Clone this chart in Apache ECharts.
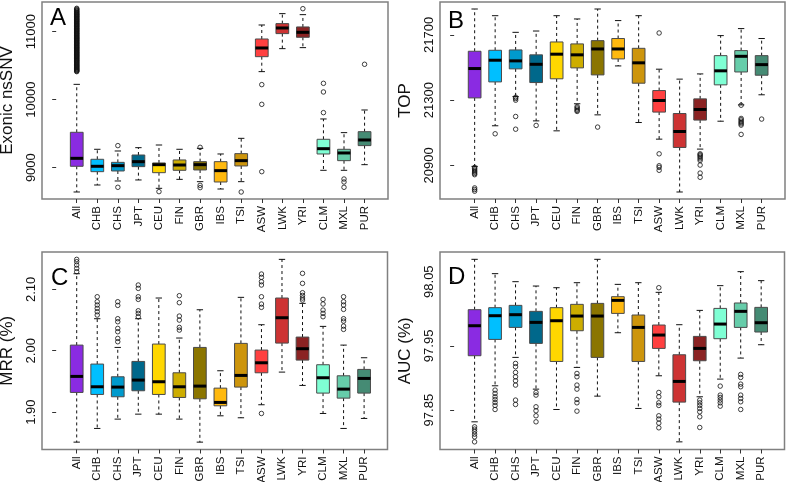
<!DOCTYPE html>
<html>
<head>
<meta charset="utf-8">
<script src="https://cdn.jsdelivr.net/npm/echarts@6/dist/echarts.min.js"></script>
<style>html,body{margin:0;padding:0;background:#fff}#c{width:787px;height:482px}</style>
</head>
<body>
<div id="c"></div>
<script>
// Categories and colours
const cats = ['All','CHB','CHS','JPT','CEU','FIN','GBR','IBS','TSI','ASW','LWK','YRI','CLM','MXL','PUR'];
const colors = ['#8A2BE2','#00BFFF','#009ACD','#00688B','#FFD700','#CDAD00','#8B7500','#FFB90F','#CD950C','#FF4040','#CD3333','#8B2323','#7FFFD4','#66CDAA','#458B74'];

// Panel A: Exonic nsSNV  [low whisker, Q1, median, Q3, high whisker]
const statsA = [
  [8642, 9020, 9137, 9520, 10225],
  [8745, 8941, 9020, 9123, 9270],
  [8804, 8951, 9029, 9078, 9245],
  [8819, 9015, 9088, 9186, 9294],
  [8696, 8926, 9044, 9069, 9333],
  [8828, 8961, 9039, 9113, 9270],
  [8794, 8966, 9044, 9088, 9284],
  [8686, 8789, 8956, 9088, 9201],
  [8794, 9025, 9103, 9206, 9431],
  [10412, 10632, 10760, 10892, 11098],
  [10750, 10971, 11054, 11118, 11265],
  [10765, 10917, 10990, 11069, 11250],
  [8961, 9201, 9279, 9417, 9716],
  [8961, 9103, 9216, 9270, 9515],
  [9044, 9324, 9407, 9529, 9848]
];
const outA = [
  [10412,10420,10428,10437,10445,10453,10461,10470,10479,10487,10496,10504,10512,10521,10531,10539,10547,10556,10566,10573,10581,10590,10600,10608,10617,10626,10636,10643,10651,10660,10668,10677,10686,10693,10701,10711,10720,10728,10737,10746,10756,10763,10771,10780,10790,10798,10807,10816,10826,10833,10841,10851,10861,10869,10877,10886,10896,10903,10911,10920,10930,10938,10947,10956,10966,10973,10981,10991,11001,11009,11017,11026,11036,11043,11051,11061,11071,11079,11087,11096,11106,11113,11121,11131,11141,11149,11157,11166,11176,11183,11191,11201,11211,11219,11227,11236,11246,11253,11261,11271,11281,11290,11300,11310,11321,11332,11343],
  [], [9324, 8711], [], [8647], [], [9299, 8740, 8706], [], [8642],
  [10221, 9931, 8941], [], [11338], [10240, 10113, 9809], [8833, 8789, 8711], [10520]
];

// Panel B: TOP
const statsB = [
  [20894, 21314, 21494, 21600, 21859],
  [21143, 21412, 21545, 21606, 21818],
  [21322, 21492, 21541, 21608, 21716],
  [21173, 21408, 21520, 21578, 21724],
  [21112, 21431, 21582, 21657, 21818],
  [21278, 21498, 21578, 21645, 21798],
  [21210, 21455, 21614, 21665, 21859],
  [21510, 21553, 21614, 21678, 21788],
  [21163, 21404, 21529, 21618, 21818],
  [21061, 21227, 21298, 21359, 21490],
  [20737, 21010, 21108, 21218, 21429],
  [21000, 21178, 21243, 21308, 21461],
  [21171, 21394, 21480, 21573, 21696],
  [21271, 21473, 21569, 21604, 21739],
  [21333, 21453, 21518, 21573, 21678]
];
const outB = [
  [20888, 20880, 20872, 20865, 20858, 20850, 20843, 20762, 20752, 20742],
  [21094], [21318, 21310, 21300, 21200, 21122], [21145], [],
  [21261, 21253, 21245, 21237, 21231], [21135], [], [],
  [21712, 20971, 20898, 20888, 20870], [],
  [20971, 20965, 20958, 20950, 20940, 20930, 20902, 20853, 20827], [],
  [21269, 21188, 21180, 21171, 21163, 21155, 21147, 21090], [21184]
];

// Panel C: MRR (%)
const statsC = [
  [1.8511, 1.9321, 1.9582, 2.0092, 2.1255],
  [1.8734, 1.9288, 1.9413, 1.9783, 2.0522],
  [1.8886, 1.9250, 1.9408, 1.9576, 2.0054],
  [1.8967, 1.9348, 1.9522, 1.9826, 2.0522],
  [1.8967, 1.9288, 1.9495, 2.0109, 2.0859],
  [1.8886, 1.9239, 1.9413, 1.9641, 2.0207],
  [1.8511, 1.9217, 1.9424, 2.0054, 2.0668],
  [1.8940, 1.9103, 1.9158, 1.9391, 1.9674],
  [1.8908, 1.9408, 1.9598, 2.0120, 2.0870],
  [1.9120, 1.9641, 1.9804, 2.0011, 2.0424],
  [1.9652, 2.0125, 2.0538, 2.0859, 2.1489],
  [1.9435, 1.9848, 2.0033, 2.0223, 2.0772],
  [1.8978, 1.9310, 1.9560, 1.9772, 2.0397],
  [1.8734, 1.9228, 1.9375, 1.9592, 2.0092],
  [1.8897, 1.9310, 1.9549, 1.9696, 1.9886]
];
const outC = [
  [2.1489, 2.1451, 2.1397, 2.1342, 2.1288],
  [2.0880, 2.0799, 2.0745, 2.0690, 2.0636, 2.0582],
  [2.0799, 2.0739, 2.0522, 2.0473, 2.0364, 2.0310, 2.0201, 2.0147],
  [2.1071, 2.1016, 2.0880, 2.0837, 2.0652, 2.0609, 2.0554],
  [],
  [2.0897, 2.0783, 2.0565, 2.0500, 2.0380, 2.0337],
  [], [], [],
  [2.1250, 2.1196, 2.1125, 2.1071, 2.0880, 2.0761, 2.0707, 1.8978],
  [],
  [2.1261, 2.1098, 2.0946, 2.0902, 2.0859, 2.0826],
  [2.0837, 2.0761, 2.0663, 2.0609, 2.0554],
  [2.0880, 2.0799, 2.0745, 2.0674, 2.0522, 2.0483, 2.0402, 2.0348],
  []
];

// Panel D: AUC (%)
const statsD = [
  [97.8318, 97.9347, 97.9814, 98.0064, 98.0848],
  [97.8879, 97.9601, 97.9970, 98.0095, 98.0625],
  [97.9321, 97.9788, 97.9986, 98.0131, 98.0500],
  [97.8827, 97.9539, 97.9866, 98.0038, 98.0432],
  [97.8510, 97.9258, 97.9892, 98.0095, 98.0406],
  [97.9165, 97.9736, 97.9965, 98.0147, 98.0484],
  [97.8718, 97.9321, 97.9965, 98.0162, 98.0848],
  [97.9705, 98.0006, 98.0209, 98.0266, 98.0458],
  [97.8526, 97.9258, 97.9788, 97.9981, 98.0484],
  [97.9035, 97.9461, 97.9669, 97.9825, 98.0334],
  [97.8006, 97.8625, 97.8947, 97.9362, 97.9830],
  [97.8708, 97.9269, 97.9461, 97.9648, 98.0053],
  [97.8983, 97.9612, 97.9840, 98.0084, 98.0438],
  [97.9310, 97.9788, 98.0038, 98.0168, 98.0656],
  [97.9518, 97.9716, 97.9861, 98.0100, 98.0516]
];
const outD = [
  [97.8240, 97.8204, 97.8168, 97.8126, 97.8084, 97.8006],
  [97.8812, 97.8760, 97.8708, 97.8666, 97.8619, 97.8573, 97.8510],
  [97.9227, 97.9175, 97.9087, 97.9019, 97.8957, 97.8890, 97.8656, 97.8588],
  [97.8775, 97.8734, 97.8552, 97.8490, 97.8412, 97.8318],
  [],
  [97.9071, 97.9019, 97.8890, 97.8827, 97.8666, 97.8614, 97.8484],
  [], [], [],
  [98.0406, 97.8775, 97.8708, 97.8614, 97.8573, 97.8412, 97.8361, 97.8298, 97.8225],
  [],
  [97.8656, 97.8614, 97.8573, 97.8526, 97.8474, 97.8396, 97.8230],
  [97.8874, 97.8734, 97.8697, 97.8656, 97.8614, 97.8562],
  [97.9056, 97.9009, 97.8905, 97.8864, 97.8734, 97.8682, 97.8630, 97.8510],
  []
];

// Axis titles, ranges and tick labels
const yNames = ['Exonic nsSNV', 'TOP', 'MRR (%)', 'AUC (%)'];
const panelLetters = ['A', 'B', 'C', 'D'];
const yMins = [8539, 20694, 1.8391, 97.7887];
const yMaxs = [11436, 21902, 2.1609, 98.0962];
const yTicksA = [9000, 10000, 11000];
const yTicksB = [20900, 21300, 21700];
const yTicksC = [1.90, 2.00, 2.10];
const yTicksD = [97.85, 97.95, 98.05];

const allStats = [statsA, statsB, statsC, statsD];
const allOut = [outA, outB, outC, outD];
const allTicks = [yTicksA, yTicksB, yTicksC, yTicksD];
const tickFmt = [v => String(v), v => String(v), v => v.toFixed(2), v => v.toFixed(2)];

const FONT = '"Liberation Sans", Arial, Helvetica, sans-serif';
const grids = [
  {left: 42, top: 2, width: 346, height: 197},
  {left: 440, top: 2, width: 345, height: 197},
  {left: 42, top: 252, width: 345.5, height: 197.5},
  {left: 440, top: 252, width: 344.5, height: 197.5}
];
const letterPos = [[50, 19], [448, 22], [51, 279], [448, 278]];

const xVals = cats.map((c, i) => i + 1);

function renderBox(params, api) {
  const x = api.value(0);
  const lo = api.coord([x, api.value(1)]);
  const q1 = api.coord([x, api.value(2)]);
  const md = api.coord([x, api.value(3)]);
  const q3 = api.coord([x, api.value(4)]);
  const hi = api.coord([x, api.value(5)]);
  const col = colors[api.value(6)];
  const hw = api.size([0.31, 0])[0];
  const cw = hw * 0.5;
  const cx = lo[0];
  const dash = {stroke: '#111', lineWidth: 1, lineDash: [3, 3]};
  const solid = {stroke: '#111', lineWidth: 1};
  return {
    type: 'group',
    children: [
      {type: 'line', shape: {x1: cx, y1: q3[1], x2: cx, y2: hi[1]}, style: dash},
      {type: 'line', shape: {x1: cx, y1: q1[1], x2: cx, y2: lo[1]}, style: dash},
      {type: 'line', shape: {x1: cx - cw, y1: hi[1], x2: cx + cw, y2: hi[1]}, style: solid},
      {type: 'line', shape: {x1: cx - cw, y1: lo[1], x2: cx + cw, y2: lo[1]}, style: solid},
      {type: 'rect', shape: {x: cx - hw, y: q3[1], width: 2 * hw, height: q1[1] - q3[1]},
        style: {fill: col, stroke: '#4a4a4a', lineWidth: 1}},
      {type: 'line', shape: {x1: cx - hw, y1: md[1], x2: cx + hw, y2: md[1]},
        style: {stroke: '#000', lineWidth: 3}}
    ]
  };
}

const option = {
  animation: false,
  backgroundColor: '#fff',
  textStyle: {fontFamily: FONT},
  grid: grids.map(g => Object.assign({
    show: true, borderColor: '#808080', borderWidth: 1.5, backgroundColor: 'transparent',
    containLabel: false, outerBoundsMode: 'none'
  }, g)),
  xAxis: grids.map((g, k) => ({
    type: 'value', gridIndex: k, min: -0.69, max: 16.14,
    axisLine: {show: false},
    splitLine: {show: false},
    axisTick: {show: true, customValues: xVals, length: 4, lineStyle: {color: '#333'}},
    axisLabel: {
      customValues: xVals, rotate: 90, margin: 7, fontSize: 11.5, color: '#111', fontFamily: FONT,
      formatter: v => cats[Math.round(v) - 1] || ''
    }
  })),
  yAxis: grids.map((g, k) => ({
    type: 'value', gridIndex: k, min: yMins[k], max: yMaxs[k],
    name: yNames[k], nameLocation: 'middle', nameRotate: 90, nameGap: 26,
    nameTextStyle: {fontSize: 17, color: '#111', fontFamily: FONT},
    axisLine: {show: false},
    splitLine: {show: false},
    axisTick: {show: true, customValues: allTicks[k], length: 4, lineStyle: {color: '#333'}},
    axisLabel: {
      customValues: allTicks[k], rotate: 90, margin: 4, fontSize: 13, color: '#111', fontFamily: FONT,
      formatter: tickFmt[k]
    }
  })),
  graphic: letterPos.map((p, k) => ({
    type: 'text', left: p[0], top: p[1] - 13,
    style: {text: panelLetters[k], font: '24px ' + FONT, fill: '#000'}
  })),
  series: []
};

allStats.forEach((st, k) => {
  option.series.push({
    type: 'custom', xAxisIndex: k, yAxisIndex: k,
    renderItem: renderBox,
    encode: {x: 0, y: [1, 2, 3, 4, 5]},
    data: st.map((s, i) => [i + 1, s[0], s[1], s[2], s[3], s[4], i]),
    z: 2
  });
  const pts = [];
  allOut[k].forEach((arr, i) => arr.forEach(v => pts.push([i + 1, v])));
  option.series.push({
    type: 'scatter', xAxisIndex: k, yAxisIndex: k,
    symbol: 'circle', symbolSize: 4.5,
    itemStyle: {color: 'rgba(0,0,0,0)', borderColor: '#111', borderWidth: 1},
    data: pts, z: 3
  });
});

const chart = echarts.init(document.getElementById('c'), null, {renderer: 'canvas'});
chart.setOption(option);
</script>
</body>
</html>
